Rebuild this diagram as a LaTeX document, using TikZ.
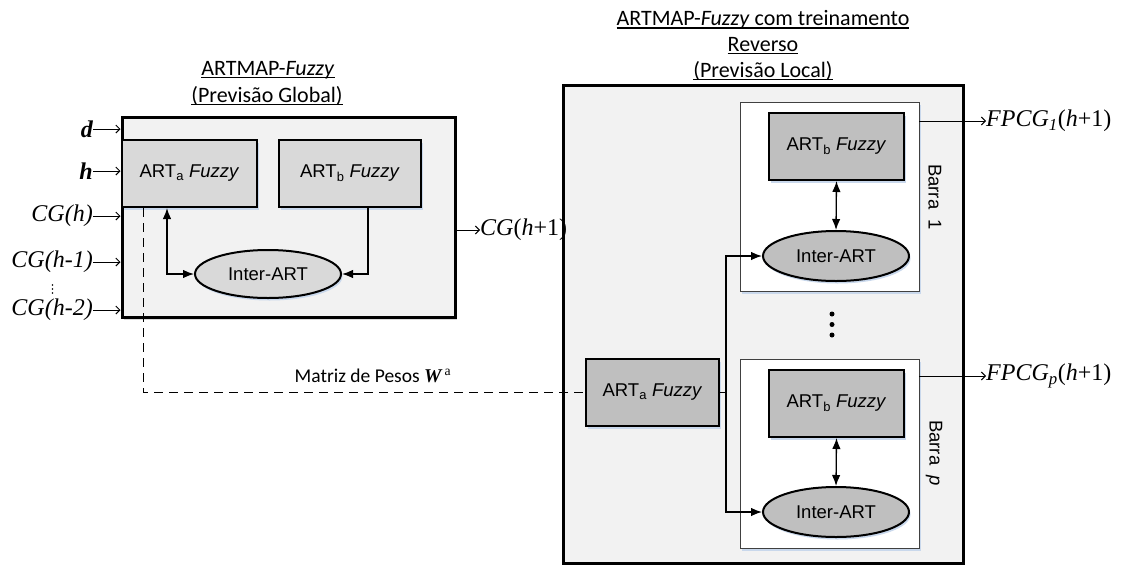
\documentclass[tikz,border=0pt]{standalone}
\usepackage{fontspec}
\setmainfont{Liberation Serif}
\newfontfamily\calfont{Carlito}
\newfontfamily\arifont{Liberation Sans}
\newfontfamily\timfont{Liberation Serif}
\usetikzlibrary{arrows.meta,shapes.geometric,shadows}
\definecolor{bgl}{HTML}{F2F2F2}
\definecolor{boxl}{HTML}{D9D9D9}
\definecolor{boxd}{HTML}{BFBFBF}
\definecolor{shb}{HTML}{C9D8EC}
\newcommand\myul[1]{\leavevmode\setbox0\hbox{#1}\rlap{\rule[-2.8pt]{\wd0}{1.3pt}}\box0}
\begin{document}
\begin{tikzpicture}[x=1pt,y=-1pt,
  frame/.style={draw, rectangle, line width=3pt, fill=bgl, inner sep=0pt},
  artL/.style={draw, rectangle, line width=2pt, fill=boxl, inner sep=0pt,
    minimum width=135pt, minimum height=67pt,
    font=\arifont\fontsize{18.5}{21}\selectfont,
    drop shadow={fill=shb, shadow xshift=1.5pt, shadow yshift=-2.5pt, opacity=1}},
  artR/.style={artL, fill=boxd},
  ellL/.style={draw, ellipse, line width=2pt, fill=boxl, inner sep=0pt,
    minimum width=146pt, minimum height=48pt,
    font=\arifont\fontsize{18.5}{21}\selectfont,
    drop shadow={fill=shb, shadow xshift=1.5pt, shadow yshift=-2.5pt, opacity=1}},
  ellR/.style={ellL, fill=boxd, minimum height=50pt},
  panel/.style={draw=black!75, rectangle, line width=0.9pt, fill=white, inner sep=0pt,
    minimum width=179pt, minimum height=189pt,
    drop shadow={fill=shb, shadow xshift=1.5pt, shadow yshift=-2.5pt, opacity=1}},
  inlbl/.style={inner sep=0pt, font=\timfont\itshape\fontsize{24}{26}\selectfont},
  outlbl/.style={inner sep=0pt, anchor=west, font=\timfont\fontsize{24}{26}\selectfont},
  inarr/.style={line width=1pt, -{Straight Barb[length=4pt,width=8pt]}},
  conn/.style={line width=1.3pt},
  tip/.style={-{Latex[length=11pt,width=8.5pt]}},
  dtip/.style={{Latex[length=11pt,width=8.5pt]}-{Latex[length=11pt,width=8.5pt]}},
  dashline/.style={line width=1.2pt, dash pattern=on 9pt off 6pt},
  title/.style={inner sep=0pt, font=\calfont\fontsize{22}{26}\selectfont},
  barlbl/.style={rotate=-90, inner sep=0pt, font=\arifont\fontsize{18.5}{21}\selectfont}
]
\useasboundingbox (0,0) rectangle (1127,565);

% ---------- titles
\node[title] (t1) at (268,70) {\myul{ARTMAP-\textit{Fuzzy}}};
\node[title] (t2) at (267,96) {\myul{(Previsão Global)}};
\node[title] (t3) at (763,20) {\myul{ARTMAP-\textit{Fuzzy} com treinamento}};
\node[title] (t4) at (763,46) {\myul{Reverso}};
\node[title] (t5) at (763,71) {\myul{(Previsão Local)}};

% ---------- left block (global)
\node[frame, minimum width=333pt, minimum height=200pt,
  drop shadow={fill=black!15, shadow xshift=2pt, shadow yshift=-3pt, opacity=1}] (L) at (288.5,217) {};
\node[artL] (La) at (189.5,173.5) {ART\textsubscript{a} \textit{Fuzzy}};
\node[artL, minimum width=142pt] (Lb) at (350,173.5) {ART\textsubscript{b} \textit{Fuzzy}};
\node[ellL] (Li) at (268,274) {Inter-ART};
\draw[conn,dtip] ([xshift=-22.5pt]La.south) |- (Li.west);
\draw[conn,tip] ([xshift=18pt]Lb.south) |- (Li.east);

% inputs
\node[inlbl, anchor=east, font=\timfont\bfseries\itshape\fontsize{24}{26}\selectfont] (id) at (93,129) {d};
\node[inlbl, anchor=east, font=\timfont\bfseries\itshape\fontsize{24}{26}\selectfont] (ih) at (93,171) {h};
\node[inlbl, anchor=east] (i0) at (93,216) {CG(h)};
\node[inlbl, anchor=east] (i1) at (93,262) {CG(h-1)};
\node[inlbl, anchor=east] (i2) at (93,310) {CG(h-2)};
\draw[inarr] (id.east) -- (id.east -| L.west);
\draw[inarr] (ih.east) -- (ih.east -| L.west);
\draw[inarr] (i0.east) -- (i0.east -| L.west);
\draw[inarr] (i1.east) -- (i1.east -| L.west);
\draw[inarr] (i2.east) -- (i2.east -| L.west);
\fill (52.5,285) circle (0.9pt) (52.5,289) circle (0.9pt) (52.5,293) circle (0.9pt);

% ---------- right block (local)
\node[frame, minimum width=400pt, minimum height=478pt] (R) at (763,324) {};
\node[panel] (P1) at (829.5,196.5) {};
\node[panel] (Pp) at (829.5,453.5) {};
\node[artR] (B1) at (836.5,146.5) {ART\textsubscript{b} \textit{Fuzzy}};
\node[artR] (Bp) at (836.5,403.5) {ART\textsubscript{b} \textit{Fuzzy}};
\node[ellR] (I1) at (836,256) {Inter-ART};
\node[ellR] (Ip) at (836,512) {Inter-ART};
\node[artR, minimum width=133pt] (Ra) at (652.5,392.5) {ART\textsubscript{a} \textit{Fuzzy}};
\node[barlbl] (bl1) at (935,197) {Barra\ \ 1};
\node[barlbl] (blp) at (934,453) {Barra\ \ \textit{p}};
\coordinate (jn) at (726,392.5);
\draw[conn] (Ra.east) -- (jn);
\draw[conn,tip] (jn) |- (I1.west);
\draw[conn,tip] (jn) |- (Ip.west);
\draw[conn,dtip] (B1.south) -- (I1.north);
\draw[conn,dtip] (Bp.south) -- (Ip.north);
\fill (832,314) circle (2.5pt) (832,324.5) circle (2.5pt) (832,335) circle (2.5pt);

% outputs
\node[outlbl] (cgo) at (480,230) {\textit{CG}(\textit{h}+1)};
\draw[inarr] (L.east |- cgo.west) -- (cgo.west);
\node[outlbl] (f1) at (986,121) {\textit{FPCG\textsubscript{1}}(\textit{h}+1)};
\node[outlbl] (fp) at (986,376) {\textit{FPCG\textsubscript{p}}(\textit{h}+1)};
\draw[inarr] (P1.east |- f1.west) -- (f1.west);
\draw[inarr] (Pp.east |- fp.west) -- (fp.west);

% weight matrix link
\draw[dashline] ([xshift=-46pt]La.south) |- (Ra.west);
\node[inner sep=0pt, font=\calfont\fontsize{19.5}{22}\selectfont] (mw) at (373,376)
  {Matriz de Pesos {\timfont\bfseries\itshape W}\,\textsuperscript{\timfont a}};
\end{tikzpicture}
\end{document}
